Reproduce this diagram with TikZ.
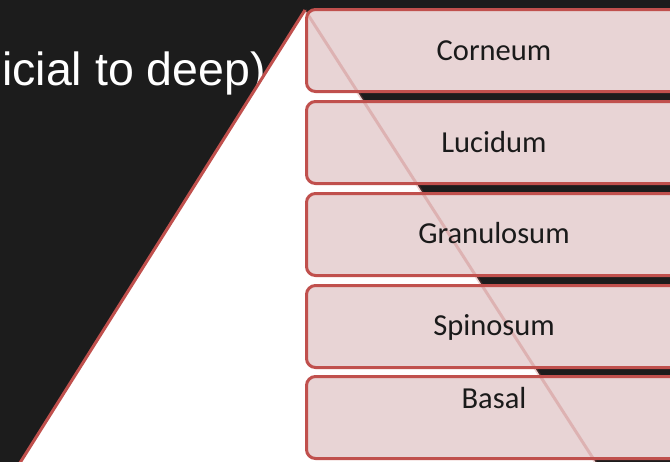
\documentclass[tikz,border=0pt]{standalone}
\usepackage{fontspec}
\setmainfont{Carlito}
\newfontfamily\headfont{Liberation Sans}
\definecolor{slatebg}{RGB}{28,28,28}
\definecolor{layerred}{RGB}{192,80,77}
\definecolor{layerfill}{RGB}{232,212,213}
\definecolor{labelink}{RGB}{26,26,26}
\tikzset{
  layerbox/.style={draw=layerred, line width=3pt, fill=layerfill, rounded corners=9pt,
    minimum width=390pt, minimum height=82pt, anchor=north west, inner sep=0pt},
  layerlabel/.style={anchor=base, text=labelink, font=\fontsize{30.5}{36}\selectfont, inner sep=0pt},
  edge/.style={draw=layerred, line width=3pt},
}
\begin{document}
\begin{tikzpicture}[x=1pt,y=-1pt]
\useasboundingbox (0,0) rectangle (670,461);
\clip (0,0) rectangle (670,461);
% dark slate background
\fill[slatebg] (-5,-5) rectangle (675,466);
% heading text, running off the left edge
\node[anchor=base east, text=white, font=\headfont\fontsize{46.5}{52}\selectfont, inner sep=0pt]
  (head) at (266,85) {icial to deep)};
% white triangle behind the layers
\coordinate (apex) at (305,10);
\coordinate (baseL) at (18,466);
\coordinate (baseR) at (598,466);
\fill[white] (apex) -- (baseL) -- (baseR) -- cycle;
\draw[edge] (apex) -- (baseL);
% the five epidermal layers
\node[layerbox] (b1) at (305,8) {};
\node[layerbox] (b2) at (305,100) {};
\node[layerbox] (b3) at (305,192) {};
\node[layerbox] (b4) at (305,284) {};
\node[layerbox] (b5) at (305,375) {};
% faint triangle edge showing through the layers
\draw[draw=layerred, line width=3pt, opacity=0.25] (apex) -- (baseR);
% layer names
\node[layerlabel] (t1) at (494,60) {Corneum};
\node[layerlabel] (t2) at (494,152) {Lucidum};
\node[layerlabel] (t3) at (494,243) {Granulosum};
\node[layerlabel] (t4) at (494,335) {Spinosum};
\node[layerlabel] (t5) at (494,408) {Basal};
\end{tikzpicture}
\end{document}
